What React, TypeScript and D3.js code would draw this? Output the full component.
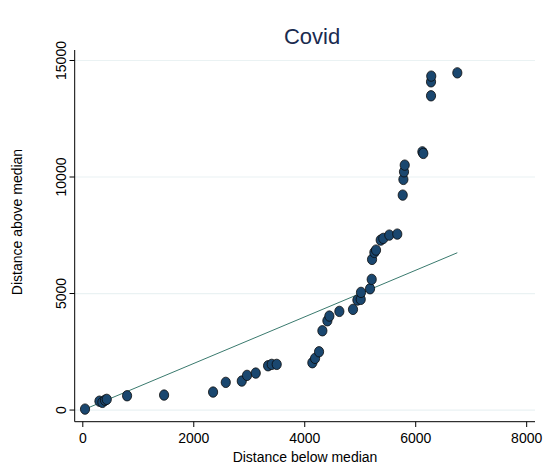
import React from "react";
import * as d3 from "d3";

// symmetry plot: distance below median vs distance above median
const below = [
  40, 300, 353, 400, 432, 798, 1465, 2348, 2577, 2865, 2960, 3117, 3339, 3405, 3495,
  4137, 4186, 4258, 4318, 4408, 4444, 4624, 4870, 4949, 5009, 5014, 5177, 5207,
  5213, 5255, 5285, 5369, 5416, 5524, 5668, 5766, 5778, 5789, 5802, 6120, 6137,
  6276, 6276, 6280, 6750,
];
const above = [
  40, 380, 330, 420, 459, 613, 643, 772, 1188, 1244, 1488, 1587, 1900, 1960, 1960,
  2030, 2217, 2501, 3402, 3831, 4033, 4234, 4320, 4719, 4749, 5049, 5204, 5607,
  6465, 6765, 6864, 7293, 7366, 7507, 7550, 9223, 9897, 10223, 10510, 11080, 11012,
  13484, 14084, 14329, 14470,
];
const xTicks = [0, 2000, 4000, 6000, 8000];
const yTicks = [0, 5000, 10000, 15000];

const W = 550;
const H = 468;
const font = "'Liberation Sans', Arial, sans-serif";

const App = () => {
  const x = d3.scaleLinear().domain([-146, 8150]).range([74.7, 535]);
  const y = d3.scaleLinear().domain([-500, 15450]).range([421.7, 50]);
  const pts = below.map((b, i) => ({ b, a: above[i] }));
  const maxB = d3.max(below) as number;
  const minB = d3.min(below) as number;
  const line = d3.line<number>().x((d) => x(d)).y((d) => y(d));

  return (
    <svg width={W} height={H} style={{ position: "absolute", left: 0, top: 0, background: "#fff" }}>
      <rect width={W} height={H} fill="#fff" />
      <text x={312} y={44} textAnchor="middle" fontFamily={font} fontSize={22} fill="#1a2b4f">
        Covid
      </text>

      {/* gridlines */}
      {yTicks.map((t) => (
        <line key={t} x1={75} x2={535} y1={y(t)} y2={y(t)} stroke="#eaf2f3" strokeWidth={1.2} />
      ))}

      {/* axes */}
      <line x1={74.7} x2={74.7} y1={50} y2={421.7} stroke="#000" strokeWidth={1} />
      <line x1={74.7} x2={535} y1={421.7} y2={421.7} stroke="#000" strokeWidth={1} />
      {yTicks.map((t) => (
        <g key={t}>
          <line x1={69.5} x2={74.7} y1={y(t)} y2={y(t)} stroke="#000" />
          <text
            transform={`translate(66 ${y(t)}) rotate(-90)`}
            textAnchor="middle"
            fontFamily={font}
            fontSize={14}
            fill="#000"
          >
            {t}
          </text>
        </g>
      ))}
      {xTicks.map((t) => (
        <g key={t}>
          <line x1={x(t)} x2={x(t)} y1={421.7} y2={427} stroke="#000" />
          <text x={x(t)} y={443} textAnchor="middle" fontFamily={font} fontSize={14} fill="#000">
            {t}
          </text>
        </g>
      ))}
      <text x={305} y={462} textAnchor="middle" fontFamily={font} fontSize={14} fill="#000">
        Distance below median
      </text>
      <text
        transform={`translate(22 ${222}) rotate(-90)`}
        textAnchor="middle"
        fontFamily={font}
        fontSize={14}
        fill="#000"
      >
        Distance above median
      </text>

      {/* reference line y = x */}
      <path d={line([minB, maxB]) ?? ""} stroke="#3a7a6e" strokeWidth={1} fill="none" />

      {pts.map((p, i) => (
        <ellipse
          key={i}
          cx={x(p.b)}
          cy={y(p.a)}
          rx={4.6}
          ry={5.2}
          fill="#1a476f"
          stroke="#0a0a0a"
          strokeWidth={0.8}
        />
      ))}
    </svg>
  );
};

export default App;
